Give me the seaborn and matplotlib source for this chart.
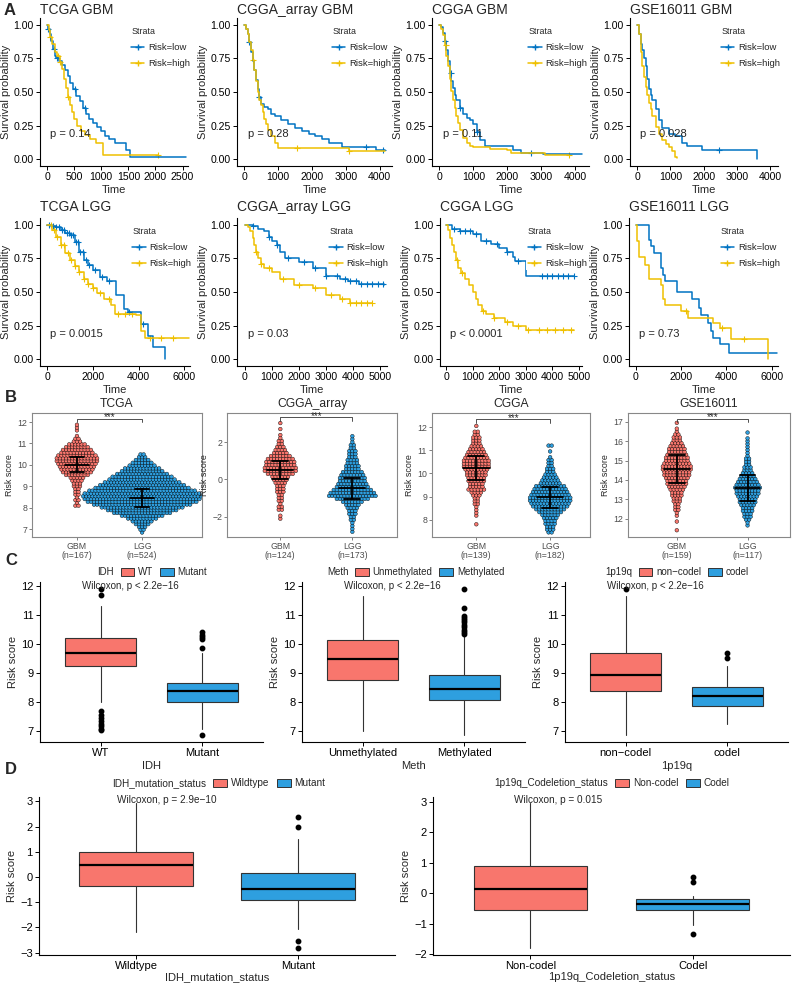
import numpy as np
import pandas as pd
import matplotlib.pyplot as plt
import seaborn as sns
from matplotlib.lines import Line2D
from matplotlib.patches import Patch

sns.set_theme(style="ticks")
plt.rcParams["font.family"] = ["Liberation Sans", "DejaVu Sans"]

W, H = 793, 984
LOW_COL = "#0073C2"
HIGH_COL = "#EFC000"
RED = "#F8766D"
BLUE = "#2E9FDF"

# ## -------------------------- ## #
# ## Panel A: Kaplan-Meier data ## #
# ## -------------------------- ## #

tcga_gbm_low_t = [0, 20, 50, 80, 110, 140, 170, 220, 280, 330, 380, 430, 480, 540, 600, 660, 720, 780, 850, 930, 1000, 1060, 1150, 1250, 1450, 1530, 2570]
tcga_gbm_low_s = [1.0, 0.97, 0.93, 0.88, 0.82, 0.77, 0.75, 0.73, 0.70, 0.66, 0.62, 0.57, 0.52, 0.47, 0.43, 0.38, 0.34, 0.30, 0.27, 0.24, 0.21, 0.17, 0.15, 0.12, 0.07, 0.02, 0.02]
tcga_gbm_low_c = [20, 130, 180, 520, 700]
tcga_gbm_high_t = [0, 30, 60, 100, 140, 180, 230, 280, 320, 350, 380, 420, 460, 500, 560, 620, 700, 800, 900, 1030, 2050]
tcga_gbm_high_s = [1.0, 0.96, 0.91, 0.86, 0.80, 0.77, 0.72, 0.67, 0.60, 0.53, 0.46, 0.40, 0.35, 0.30, 0.25, 0.21, 0.18, 0.15, 0.12, 0.03, 0.03]
tcga_gbm_high_c = [60, 200, 240, 380, 2050]

cggaarr_gbm_low_t = [0, 50, 100, 150, 200, 250, 300, 350, 400, 450, 500, 600, 700, 800, 900, 1100, 1300, 1500, 1700, 1900, 2100, 2300, 2500, 2900, 3900, 4150]
cggaarr_gbm_low_s = [1.0, 0.97, 0.93, 0.87, 0.80, 0.73, 0.66, 0.59, 0.52, 0.46, 0.41, 0.39, 0.37, 0.34, 0.32, 0.29, 0.26, 0.23, 0.21, 0.19, 0.17, 0.15, 0.12, 0.09, 0.07, 0.07]
cggaarr_gbm_low_c = [150, 450, 3600, 4100]
cggaarr_gbm_high_t = [0, 50, 100, 150, 200, 250, 300, 350, 400, 450, 500, 550, 600, 650, 700, 800, 900, 1000, 3100, 4150]
cggaarr_gbm_high_s = [1.0, 0.97, 0.93, 0.87, 0.81, 0.74, 0.66, 0.58, 0.50, 0.44, 0.40, 0.35, 0.30, 0.26, 0.22, 0.17, 0.12, 0.085, 0.06, 0.06]
cggaarr_gbm_high_c = [250, 1550, 3100]

cgga_gbm_low_t = [0, 50, 100, 150, 200, 250, 300, 350, 400, 450, 500, 600, 700, 800, 900, 1000, 1100, 1200, 1350, 2150, 2400, 3050, 4200]
cgga_gbm_low_s = [1.0, 0.98, 0.94, 0.88, 0.81, 0.73, 0.64, 0.58, 0.53, 0.48, 0.44, 0.38, 0.34, 0.31, 0.29, 0.26, 0.20, 0.14, 0.10, 0.07, 0.05, 0.04, 0.04]
cgga_gbm_low_c = [170, 330, 600, 1100, 2700]
cgga_gbm_high_t = [0, 50, 100, 150, 200, 250, 300, 350, 400, 450, 500, 550, 600, 700, 800, 900, 1000, 1500, 2000, 2100, 3100, 3800]
cgga_gbm_high_s = [1.0, 0.97, 0.92, 0.85, 0.77, 0.69, 0.60, 0.51, 0.44, 0.38, 0.32, 0.27, 0.22, 0.16, 0.12, 0.10, 0.09, 0.08, 0.07, 0.05, 0.03, 0.03]
cgga_gbm_high_c = [180, 3800]

gse_gbm_low_t = [0, 50, 100, 150, 200, 250, 300, 350, 400, 450, 550, 650, 750, 950, 1150, 1350, 1500, 1950, 3600, 3600]
gse_gbm_low_s = [1.0, 0.93, 0.86, 0.81, 0.75, 0.69, 0.60, 0.52, 0.48, 0.44, 0.37, 0.29, 0.23, 0.19, 0.17, 0.12, 0.10, 0.07, 0.07, 0.0]
gse_gbm_low_c = [2450]
gse_gbm_high_t = [0, 50, 100, 150, 200, 250, 300, 350, 400, 450, 550, 650, 750, 850, 950, 1050, 1150, 1200]
gse_gbm_high_s = [1.0, 0.93, 0.80, 0.69, 0.61, 0.54, 0.48, 0.42, 0.37, 0.32, 0.24, 0.19, 0.14, 0.11, 0.09, 0.06, 0.02, 0.01]
gse_gbm_high_c = []

tcga_lgg_low_t = [0, 200, 400, 600, 800, 1000, 1200, 1400, 1600, 1800, 2000, 2300, 2600, 3000, 3350, 3550, 4100, 4400, 4650, 5150]
tcga_lgg_low_s = [1.0, 0.99, 0.98, 0.96, 0.94, 0.92, 0.87, 0.80, 0.74, 0.70, 0.66, 0.61, 0.58, 0.48, 0.37, 0.35, 0.26, 0.17, 0.09, 0.0]
tcga_lgg_low_c = [100, 250, 400, 500, 650, 750, 850, 950, 1050, 1150, 1250, 1350, 1450, 1550, 1700, 1850, 2100, 2400, 2700, 3600, 4200]
tcga_lgg_high_t = [0, 200, 400, 600, 800, 1000, 1200, 1400, 1600, 1800, 2000, 2200, 2500, 2800, 2950, 3900, 4100, 4300, 6200]
tcga_lgg_high_s = [1.0, 0.96, 0.91, 0.85, 0.79, 0.74, 0.69, 0.65, 0.60, 0.56, 0.53, 0.49, 0.45, 0.40, 0.34, 0.33, 0.21, 0.16, 0.16]
tcga_lgg_high_c = [150, 300, 450, 600, 750, 900, 1050, 1200, 1400, 1600, 1800, 2000, 2300, 2700, 3100, 3400, 3700, 4500, 5000, 5500]

cggaarr_lgg_low_t = [0, 300, 500, 700, 900, 1000, 1200, 1300, 1500, 2000, 2500, 3000, 3500, 3800, 4200, 5150]
cggaarr_lgg_low_s = [1.0, 0.99, 0.97, 0.95, 0.91, 0.88, 0.85, 0.80, 0.75, 0.72, 0.68, 0.62, 0.60, 0.58, 0.56, 0.55]
cggaarr_lgg_low_c = [300, 900, 1200, 1600, 2200, 2600, 3000, 3400, 3700, 3900, 4100, 4300, 4500, 4700, 4900, 5100]
cggaarr_lgg_high_t = [0, 100, 200, 300, 350, 400, 500, 600, 700, 1000, 1300, 1800, 2500, 3000, 3500, 3900, 4700]
cggaarr_lgg_high_s = [1.0, 0.98, 0.95, 0.90, 0.85, 0.80, 0.75, 0.71, 0.68, 0.65, 0.60, 0.55, 0.53, 0.48, 0.45, 0.42, 0.42]
cggaarr_lgg_high_c = [400, 600, 900, 1400, 2000, 2600, 3200, 3600, 3900, 4100, 4300, 4500, 4700]

cgga_lgg_low_t = [0, 200, 500, 1000, 1300, 1700, 2000, 2300, 2500, 2600, 3000, 4800]
cgga_lgg_low_s = [1.0, 0.97, 0.95, 0.93, 0.88, 0.86, 0.83, 0.80, 0.76, 0.73, 0.62, 0.62]
cgga_lgg_low_c = [300, 500, 700, 900, 1100, 1500, 1900, 2300, 2700, 3600, 3800, 4000, 4200, 4400, 4600, 4800]
cgga_lgg_high_t = [0, 80, 150, 220, 300, 380, 450, 550, 700, 850, 1000, 1100, 1200, 1350, 1500, 1800, 2200, 2500, 3000, 4800]
cgga_lgg_high_s = [1.0, 0.96, 0.90, 0.85, 0.80, 0.74, 0.68, 0.64, 0.60, 0.55, 0.50, 0.45, 0.40, 0.36, 0.34, 0.31, 0.28, 0.25, 0.22, 0.22]
cgga_lgg_high_c = [400, 600, 1400, 1800, 2300, 2700, 3100, 3500, 3800, 4100, 4400, 4700]

gse_lgg_low_t = [0, 600, 650, 800, 1100, 1200, 1300, 1800, 2500, 2800, 2900, 3200, 3300, 3400, 3700, 4100, 6250]
gse_lgg_low_s = [1.0, 0.89, 0.84, 0.79, 0.68, 0.63, 0.58, 0.50, 0.45, 0.38, 0.33, 0.27, 0.21, 0.16, 0.11, 0.05, 0.05]
gse_lgg_low_c = []
gse_lgg_high_t = [0, 50, 150, 400, 600, 1100, 1200, 1300, 2000, 2300, 3400, 3700, 4200, 5850, 5850]
gse_lgg_high_s = [1.0, 0.88, 0.76, 0.70, 0.60, 0.55, 0.45, 0.40, 0.36, 0.31, 0.27, 0.23, 0.15, 0.15, 0.0]
gse_lgg_high_c = [2200, 3800, 4800]

km_titles = ["TCGA GBM", "CGGA_array GBM", "CGGA GBM", "GSE16011 GBM",
             "TCGA LGG", "CGGA_array LGG", "CGGA LGG", "GSE16011 LGG"]
km_pvals = ["p = 0.14", "p = 0.28", "p = 0.11", "p = 0.028",
            "p = 0.0015", "p = 0.03", "p < 0.0001", "p = 0.73"]
km_xlims = [(-130, 2600), (-210, 4360), (-220, 4400), (-220, 4240),
            (-310, 6250), (-290, 5250), (-240, 5120), (-300, 6280)]
km_xsteps = [500, 1000, 1000, 1000, 2000, 1000, 1000, 2000]

# ## ---------------------- ## #
# ## Panel B: beeswarm data ## #
# ## ---------------------- ## #

b_titles = ["TCGA", "CGGA_array", "CGGA", "GSE16011"]
b_ns = [(167, 524), (124, 173), (139, 182), (159, 117)]
b_steps = [0.13, 0.16, 0.125, 0.15]

tcga_gbm_start = 8.10
tcga_gbm_counts = [2, 1, 2, 1, 2, 2, 2, 3, 3, 4, 5, 8, 10, 11, 12, 13, 14, 14, 13, 11, 10, 8, 6, 3, 2, 1, 0, 1, 1, 1]
tcga_lgg_start = 6.85
tcga_lgg_counts = [1, 2, 3, 5, 7, 10, 14, 19, 23, 27, 32, 36, 38, 39, 38, 35, 31, 28, 25, 22, 20, 17, 14, 12, 9, 7, 5, 3, 2]
cggaarr_gbm_start = -2.10
cggaarr_gbm_counts = [1, 1, 0, 2, 2, 1, 2, 2, 2, 3, 3, 3, 4, 5, 6, 9, 11, 11, 10, 10, 9, 7, 5, 4, 3, 2, 2, 1, 1, 0, 1, 0, 1]
cggaarr_lgg_start = -2.80
cggaarr_lgg_counts = [1, 1, 1, 1, 2, 2, 3, 3, 4, 5, 7, 11, 16, 15, 13, 11, 10, 9, 9, 8, 7, 5, 5, 4, 4, 3, 3, 3, 2, 2, 1, 1, 1]
cgga_gbm_start = 7.80
cgga_gbm_counts = [1, 0, 0, 1, 1, 1, 1, 2, 2, 2, 3, 4, 6, 5, 5, 6, 6, 7, 7, 8, 9, 9, 9, 8, 7, 6, 5, 4, 3, 3, 3, 2, 2, 0, 1]
cgga_lgg_start = 7.45
cgga_lgg_counts = [2, 3, 3, 4, 4, 5, 6, 8, 10, 12, 13, 14, 14, 13, 12, 11, 10, 7, 6, 5, 4, 3, 3, 2, 2, 2, 1, 0, 1, 0, 2]
gse_gbm_start = 11.40
gse_gbm_counts = [1, 0, 0, 1, 0, 1, 1, 2, 2, 2, 3, 3, 4, 4, 5, 6, 7, 7, 8, 9, 9, 10, 10, 9, 8, 8, 7, 6, 6, 5, 4, 3, 3, 2, 1, 1, 0, 1]
gse_lgg_start = 11.65
gse_lgg_counts = [1, 1, 2, 3, 3, 4, 4, 5, 6, 6, 7, 8, 8, 9, 8, 7, 6, 5, 4, 3, 3, 2, 2, 2, 1, 1, 1, 1, 1, 1, 1, 0, 1]

b_means = [(10.0, 8.45), (0.51, -0.48), (10.25, 8.96), (14.56, 13.57)]
b_sds = [(0.35, 0.42), (0.50, 0.56), (0.52, 0.45), (0.72, 0.67)]
b_ylims = [(6.64, 12.42), (-3.08, 3.56), (7.25, 12.61), (11.05, 17.46)]
b_yticks = [[7, 8, 9, 10, 11, 12], [-2, 0, 2], [8, 9, 10, 11, 12], [12, 13, 14, 15, 16, 17]]
b_xlims = [(-0.69, 1.92), (-0.74, 1.62), (-0.6, 1.54), (-0.69, 1.6)]
b_bracket = [12.16, 3.33, 12.36, 17.17]

# ## ----------------------- ## #
# ## Panel C/D: boxplot data ## #
# ## ----------------------- ## #
# whisker low, q1, median, q3, whisker high

idh_wt_box = [7.99, 9.25, 9.70, 10.21, 11.31]
idh_wt_fliers = [11.89, 11.68, 7.69, 7.54, 7.45, 7.36, 7.25, 7.17, 7.08, 7.02]
idh_mut_box = [7.06, 7.99, 8.37, 8.67, 9.70]
idh_mut_fliers = [10.41, 10.30, 10.24, 10.18, 9.86, 6.85]
meth_un_box = [7.0, 8.75, 9.48, 10.13, 11.66]
meth_un_fliers = []
meth_me_box = [6.85, 8.06, 8.46, 8.94, 10.30]
meth_me_fliers = [11.89, 11.23, 10.97, 10.90, 10.84, 10.76, 10.67, 10.59, 10.50, 10.41, 10.34]
codel_no_box = [6.85, 8.38, 8.94, 9.70, 11.66]
codel_no_fliers = [11.89]
codel_yes_box = [7.25, 7.87, 8.20, 8.51, 9.24]
codel_yes_fliers = [9.70, 9.52]

d_idh_wt_box = [-2.18, -0.37, 0.46, 1.0, 2.95]
d_idh_wt_fliers = []
d_idh_mut_box = [-2.05, -0.93, -0.49, 0.14, 1.52]
d_idh_mut_fliers = [2.37, 1.99, -2.53, -2.82]
d_codel_no_box = [-1.78, -0.56, 0.15, 0.91, 2.97]
d_codel_no_fliers = []
d_codel_yes_box = [-1.05, -0.56, -0.34, -0.18, -0.07]
d_codel_yes_fliers = [0.55, 0.38, -1.34]


# ## --------- ## #
# ## Functions ## #
# ## --------- ## #

def px_axes(fig, left, top, right, bottom):
    return fig.add_axes([left / W, 1 - bottom / H, (right - left) / W, (bottom - top) / H])


def draw_km(ax, title, low, high, pval, xlim, xstep, title_pad):
    for (t, s, cens), col in [(low, LOW_COL), (high, HIGH_COL)]:
        sns.lineplot(x=t, y=s, ax=ax, color=col, linewidth=1.1, drawstyle="steps-post",
                     estimator=None, sort=False)
        if len(cens):
            idx = np.searchsorted(t, cens, side="right") - 1
            sns.scatterplot(x=cens, y=np.asarray(s)[idx], ax=ax, color=col, marker="+",
                            s=24, linewidth=0.8)
    ax.set_xlim(*xlim)
    ax.set_ylim(-0.05, 1.05)
    ax.set_xticks(np.arange(0, xlim[1], xstep))
    ax.set_yticks([0, 0.25, 0.5, 0.75, 1.0])
    ax.set_yticklabels(["0.00", "0.25", "0.50", "0.75", "1.00"])
    ax.set_title(title, loc="left", fontsize=10, pad=title_pad)
    ax.set_xlabel("Time", fontsize=8, labelpad=2)
    ax.set_ylabel("Survival probability", fontsize=8, labelpad=2)
    ax.tick_params(labelsize=7.6, length=3, width=0.7, pad=1.5, colors="black")
    sns.despine(ax=ax)
    for sp in ["left", "bottom"]:
        ax.spines[sp].set_linewidth(0.8)
        ax.spines[sp].set_color("black")
    ax.text(0.07, 0.185, pval, transform=ax.get_yaxis_transform(), fontsize=8, va="center")
    handles = [Line2D([], [], color=LOW_COL, marker="+", lw=1.1, ms=5),
               Line2D([], [], color=HIGH_COL, marker="+", lw=1.1, ms=5)]
    ax.legend(handles, ["Risk=low", "Risk=high"], title="Strata", loc="upper left",
              bbox_to_anchor=(0.575, 0.98), fontsize=6.8, title_fontsize=6.4,
              frameon=True, facecolor="white", edgecolor="none", framealpha=1,
              alignment="left", handlelength=1.4, borderpad=0.15, labelspacing=0.75,
              handletextpad=0.4, fancybox=False)


def draw_swarm(ax, title, groups, ns, means, sds, step, xlim, ylim, yticks, bracket_y, width_px):
    dx = 3.1 / (width_px / (xlim[1] - xlim[0]))
    rows = []
    for pos, (start, counts) in enumerate(groups):
        for i, c in enumerate(counts):
            for j in range(c):
                rows.append({"x": pos + (j - (c - 1) / 2) * dx, "y": start + i * step,
                             "grp": ["GBM", "LGG"][pos]})
    df = pd.DataFrame(rows)
    sns.scatterplot(data=df, x="x", y="y", hue="grp", palette=[RED, BLUE], s=7,
                    edgecolor="black", linewidth=0.3, legend=False, ax=ax, zorder=2)
    for pos in range(2):
        m, sd = means[pos], sds[pos]
        ax.plot([pos, pos], [m - sd, m + sd], color="black", lw=1.3, zorder=3)
        for yy, hw in [(m - sd, 0.11), (m + sd, 0.11), (m, 0.18)]:
            ax.plot([pos - hw, pos + hw], [yy, yy], color="black", lw=1.3, zorder=3)
    rng = ylim[1] - ylim[0]
    tip = 0.03 * rng
    ax.plot([0, 0, 1, 1], [bracket_y - tip, bracket_y, bracket_y, bracket_y - tip],
            color="#333333", lw=0.6)
    ax.text(0.5, bracket_y - 0.015 * rng, "***", ha="center", va="baseline", fontsize=7)
    ax.set_xlim(*xlim)
    ax.set_ylim(*ylim)
    ax.set_yticks(yticks)
    ax.set_xticks([0, 1])
    ax.set_xticklabels([f"GBM\n(n={ns[0]})", f"LGG\n(n={ns[1]})"], linespacing=1.0)
    ax.set_title(title, fontsize=8.7, pad=4)
    ax.set_xlabel("")
    ax.set_ylabel("Risk score", fontsize=6.4, labelpad=2)
    ax.tick_params(labelsize=6.3, length=2, width=0.5, pad=1.5, colors="#4D4D4D")
    for sp in ax.spines.values():
        sp.set_color("#888888")
        sp.set_linewidth(0.8)


def box_stats(vals, fliers):
    lo, q1, med, q3, hi = vals
    return dict(whislo=lo, q1=q1, med=med, q3=q3, whishi=hi, fliers=fliers)


def draw_box(ax, stats, cats, xlabel, ylim, yticks, legend_title, ptext, ptext_xy,
             fs_tick, fs_leg, leg_y, leg_shift, xlabelpad):
    bp = ax.bxp(stats, positions=[0, 1], widths=0.7, patch_artist=True, showcaps=False,
                boxprops=dict(edgecolor="#333333", linewidth=0.8),
                medianprops=dict(color="black", linewidth=1.6),
                whiskerprops=dict(color="#333333", linewidth=0.8),
                flierprops=dict(marker="o", markerfacecolor="black", markeredgecolor="black",
                                markersize=3.2))
    for patch, col in zip(bp["boxes"], [RED, BLUE]):
        patch.set_facecolor(col)
    ax.set_xlim(-0.6, 1.6)
    ax.set_ylim(*ylim)
    ax.set_yticks(yticks)
    ax.set_yticklabels([str(v).replace("-", "\u2212") for v in yticks])
    ax.set_xticks([0, 1])
    ax.set_xticklabels(cats)
    ax.set_xlabel(xlabel, fontsize=fs_tick, labelpad=xlabelpad)
    ax.set_ylabel("Risk score", fontsize=fs_tick, labelpad=2)
    ax.tick_params(labelsize=fs_tick, length=3, width=0.7, pad=1.5, colors="black")
    sns.despine(ax=ax)
    for sp in ["left", "bottom"]:
        ax.spines[sp].set_linewidth(0.8)
        ax.spines[sp].set_color("black")
    ax.text(ptext_xy[0], ptext_xy[1], ptext, ha="left", va="center", fontsize=fs_leg)
    handles = [Patch(facecolor="none", edgecolor="none")] + \
              [Patch(facecolor=c, edgecolor="#333333", linewidth=0.7) for c in (RED, BLUE)]
    ax.legend(handles, [legend_title] + list(cats), ncol=3, loc="lower center",
              bbox_to_anchor=(0.5 + leg_shift, leg_y), frameon=False, fontsize=fs_leg,
              handlelength=1.4, handleheight=0.9, handletextpad=0.4, columnspacing=0.7,
              borderaxespad=0, borderpad=0.1)


# ## ------ ## #
# ## Figure ## #
# ## ------ ## #

fig = plt.figure(figsize=(W / 100, H / 100), dpi=100)

km_curves = [
    ((tcga_gbm_low_t, tcga_gbm_low_s, tcga_gbm_low_c), (tcga_gbm_high_t, tcga_gbm_high_s, tcga_gbm_high_c)),
    ((cggaarr_gbm_low_t, cggaarr_gbm_low_s, cggaarr_gbm_low_c), (cggaarr_gbm_high_t, cggaarr_gbm_high_s, cggaarr_gbm_high_c)),
    ((cgga_gbm_low_t, cgga_gbm_low_s, cgga_gbm_low_c), (cgga_gbm_high_t, cgga_gbm_high_s, cgga_gbm_high_c)),
    ((gse_gbm_low_t, gse_gbm_low_s, gse_gbm_low_c), (gse_gbm_high_t, gse_gbm_high_s, gse_gbm_high_c)),
    ((tcga_lgg_low_t, tcga_lgg_low_s, tcga_lgg_low_c), (tcga_lgg_high_t, tcga_lgg_high_s, tcga_lgg_high_c)),
    ((cggaarr_lgg_low_t, cggaarr_lgg_low_s, cggaarr_lgg_low_c), (cggaarr_lgg_high_t, cggaarr_lgg_high_s, cggaarr_lgg_high_c)),
    ((cgga_lgg_low_t, cgga_lgg_low_s, cgga_lgg_low_c), (cgga_lgg_high_t, cgga_lgg_high_s, cgga_lgg_high_c)),
    ((gse_lgg_low_t, gse_lgg_low_s, gse_lgg_low_c), (gse_lgg_high_t, gse_lgg_high_s, gse_lgg_high_c)),
]
km_boxes = [(40, 18, 188, 166), (237, 18, 392, 166), (432, 18, 589, 166), (630, 18, 778, 166),
            (40, 218, 190, 366), (237, 218, 387, 366), (440, 218, 582, 366), (629, 218, 778, 366)]
for k in range(8):
    ax = px_axes(fig, *km_boxes[k])
    low, high = km_curves[k]
    draw_km(ax, km_titles[k], low, high, km_pvals[k], km_xlims[k], km_xsteps[k],
            3 if k < 4 else 5)

b_groups = [[(tcga_gbm_start, tcga_gbm_counts), (tcga_lgg_start, tcga_lgg_counts)],
            [(cggaarr_gbm_start, cggaarr_gbm_counts), (cggaarr_lgg_start, cggaarr_lgg_counts)],
            [(cgga_gbm_start, cgga_gbm_counts), (cgga_lgg_start, cgga_lgg_counts)],
            [(gse_gbm_start, gse_gbm_counts), (gse_lgg_start, gse_lgg_counts)]]
b_boxes = [(32, 413, 202, 537), (227, 413, 397, 537), (432, 413, 590, 537), (628, 413, 790, 537)]
for k in range(4):
    box = b_boxes[k]
    ax = px_axes(fig, *box)
    draw_swarm(ax, b_titles[k], b_groups[k], b_ns[k], b_means[k], b_sds[k], b_steps[k],
               b_xlims[k], b_ylims[k], b_yticks[k], b_bracket[k], box[2] - box[0])

c_ylim = (6.62, 12.14)
c_ticks = [7, 8, 9, 10, 11, 12]
ax = px_axes(fig, 40, 582, 263, 742)
draw_box(ax, [box_stats(idh_wt_box, idh_wt_fliers), box_stats(idh_mut_box, idh_mut_fliers)],
         ["WT", "Mutant"], "IDH", c_ylim, c_ticks, "IDH",
         "Wilcoxon, p < 2.2e\u221216", (-0.19, 12.0), 8, 7, 1.025, -0.036, 2)
ax = px_axes(fig, 302, 582, 525, 742)
draw_box(ax, [box_stats(meth_un_box, meth_un_fliers), box_stats(meth_me_box, meth_me_fliers)],
         ["Unmethylated", "Methylated"], "Meth", c_ylim, c_ticks, "Meth",
         "Wilcoxon, p < 2.2e\u221216", (-0.19, 12.0), 8, 7, 1.025, -0.03, 2)
ax = px_axes(fig, 565, 582, 788, 742)
draw_box(ax, [box_stats(codel_no_box, codel_no_fliers), box_stats(codel_yes_box, codel_yes_fliers)],
         ["non\u2212codel", "codel"], "1p19q", c_ylim, c_ticks, "1p19q",
         "Wilcoxon, p < 2.2e\u221216", (-0.19, 12.0), 8, 7, 1.025, -0.038, 2)

ax = px_axes(fig, 39, 797, 395, 955)
draw_box(ax, [box_stats(d_idh_wt_box, d_idh_wt_fliers), box_stats(d_idh_mut_box, d_idh_mut_fliers)],
         ["Wildtype", "Mutant"], "IDH_mutation_status", (-3.09, 3.17), [-3, -2, -1, 0, 1, 2, 3],
         "IDH_mutation_status", "Wilcoxon, p = 2.9e\u221210",
         (-0.12, 3.04), 8, 7.2, 1.05, -0.02, 0.5)
ax = px_axes(fig, 433, 797, 790, 955)
draw_box(ax, [box_stats(d_codel_no_box, d_codel_no_fliers), box_stats(d_codel_yes_box, d_codel_yes_fliers)],
         ["Non-codel", "Codel"], "1p19q_Codeletion_status", (-2.02, 3.16), [-2, -1, 0, 1, 2, 3],
         "1p19q_Codeletion_status", "Wilcoxon, p = 0.015",
         (-0.1, 3.05), 8, 7.2, 1.05, -0.024, 0.5)

for letter, (x, y) in zip("ABCD", [(4, 3), (5, 390), (5, 553), (5, 762)]):
    fig.text(x / W, 1 - y / H, letter, fontsize=12, fontweight="bold", va="top", ha="left")

fig.savefig("out.png", dpi=100)
